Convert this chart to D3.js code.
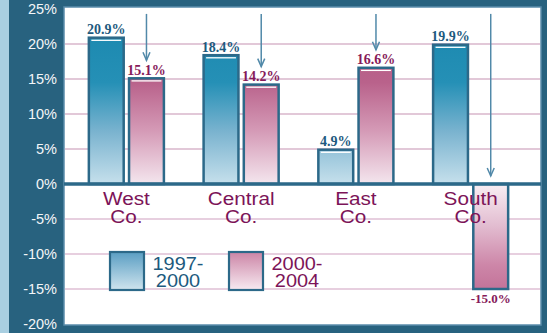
<!DOCTYPE html>
<html><head><meta charset="utf-8">
<script src="https://cdn.jsdelivr.net/npm/d3@7"></script>
<style>html,body{margin:0;padding:0;background:#fff;}svg{display:block;}</style>
</head><body>
<script>
const categories = ["West|Co.", "Central|Co.", "East|Co.", "South|Co."];
const seriesNames = ["1997-|2000", "2000-|2004"];
const values1997_2000 = [20.9, 18.4, 4.9, 19.9];
const values2000_2004 = [15.1, 14.2, 16.6, -15.0];
const labels1997_2000 = ["20.9%", "18.4%", "4.9%", "19.9%"];
const labels2000_2004 = ["15.1%", "14.2%", "16.6%", "-15.0%"];
const yTicks = [25, 20, 15, 10, 5, 0, -5, -10, -15, -20];

const W = 547, H = 333;
const plot = {left: 64, right: 541, top: 7, bottom: 325};
const svg = d3.select("body").append("svg").attr("width", W).attr("height", H);

const blueDark = "#1d5a7e", maroon = "#7c1458", frame = "#28627f", barStroke = "#2c6989";

// scales
const y = d3.scaleLinear().domain([-20, 25]).range([324, 9]);
const x0 = d3.scaleBand().domain(categories).range([69, 528]).paddingInner(0.346).paddingOuter(0.173);
const x1 = d3.scaleBand().domain(seriesNames).range([0, x0.bandwidth()]).paddingInner(0.133);

// gradients
const defs = svg.append("defs");
function grad(id, y1, y2, stops) {
  const g = defs.append("linearGradient").attr("id", id).attr("gradientUnits", "userSpaceOnUse")
    .attr("x1", 0).attr("x2", 0).attr("y1", y1).attr("y2", y2);
  stops.forEach(s => g.append("stop").attr("offset", s[0]).attr("stop-color", s[1]));
}
grad("gBlue", y(25), y(0), [[0, "#1886ad"], [0.42, "#2590b6"], [0.7, "#7ab3cf"], [1, "#c6e0ec"]]);
grad("gPink", y(25), y(0), [[0, "#b45884"], [0.42, "#b9628b"], [0.7, "#d59bb7"], [1, "#f4e6ee"]]);
grad("gPinkNeg", y(0), y(-20), [[0, "#f8eef3"], [0.3, "#e2bcd0"], [0.58, "#cd86a8"], [1, "#b45884"]]);
grad("gBlueLeg", 252, 290, [[0, "#5a9ec3"], [1, "#cfe4ee"]]);
grad("gPinkLeg", 252, 290, [[0, "#cc85a6"], [1, "#f7eaf1"]]);

// frame
svg.append("rect").attr("x", 0).attr("y", 0).attr("width", W).attr("height", H).attr("fill", frame);
svg.append("rect").attr("x", 0).attr("y", 0).attr("width", 9).attr("height", H).attr("fill", "#a9cfe1");
svg.append("rect").attr("x", plot.left).attr("y", plot.top)
  .attr("width", plot.right - plot.left).attr("height", plot.bottom - plot.top)
  .attr("fill", "#fff").attr("stroke", "#5a8cab").attr("stroke-width", 1.5);

// gridlines
svg.append("g").selectAll("line").data(yTicks.filter(t => t !== 0 && t !== 25 && t !== -20)).join("line")
  .attr("x1", plot.left + 1).attr("x2", plot.right - 1)
  .attr("y1", d => y(d)).attr("y2", d => y(d))
  .attr("stroke", d => d > 0 ? "#e2c8d8" : "#cf9fbf")
  .attr("stroke-width", d => d > 0 ? 2 : 1.2);

// y axis
const yAxis = d3.axisLeft(y).tickValues(yTicks).tickSize(0).tickPadding(0).tickFormat(d => d + "%");
const ga = svg.append("g").attr("transform", "translate(57,0)").call(yAxis);
ga.select(".domain").remove();
ga.selectAll("text").attr("fill", "#f4f6f8").attr("font-family", "Liberation Sans, Arial, sans-serif")
  .attr("font-size", 14.5);

// bars
const rows = categories.map((c, i) => ({
  cat: c,
  items: [
    {s: seriesNames[0], v: values1997_2000[i], label: labels1997_2000[i], fill: "url(#gBlue)", color: blueDark},
    {s: seriesNames[1], v: values2000_2004[i], label: labels2000_2004[i], fill: values2000_2004[i] < 0 ? "url(#gPinkNeg)" : "url(#gPink)", color: "#861a5a"}
  ]
}));

const groups = svg.append("g").selectAll("g").data(rows).join("g")
  .attr("transform", d => `translate(${x0(d.cat)},0)`);

groups.selectAll("rect.bar").data(d => d.items).join("rect").attr("class", "bar")
  .attr("x", d => x1(d.s)).attr("width", x1.bandwidth())
  .attr("y", d => y(Math.max(0, d.v))).attr("height", d => Math.abs(y(d.v) - y(0)))
  .attr("fill", d => d.fill).attr("stroke", barStroke).attr("stroke-width", 2.5);

groups.selectAll("line.hl").data(d => d.items.filter(e => e.v > 0)).join("line").attr("class", "hl")
  .attr("x1", d => x1(d.s) + 2.5).attr("x2", d => x1(d.s) + x1.bandwidth() - 2.5)
  .attr("y1", d => y(d.v) + 2.6).attr("y2", d => y(d.v) + 2.6)
  .attr("stroke", "#fff").attr("stroke-width", 1.3);

groups.selectAll("text.val").data(d => d.items).join("text").attr("class", "val")
  .attr("x", d => x1(d.s) + x1.bandwidth() / 2)
  .attr("y", d => d.v >= 0 ? y(d.v) - 3.5 : y(d.v) + 14)
  .attr("text-anchor", "middle")
  .attr("font-family", "Liberation Serif, Times New Roman, serif").attr("font-weight", "bold")
  .attr("font-size", d => d.v >= 0 ? 14 : 13)
  .attr("fill", d => d.color)
  .text(d => d.label);

// arrows pointing to 2000-2004 bars
const arrowTop = y(24.3);
groups.each(function(d) {
  const it = d.items[1];
  const cx = x1(it.s) + x1.bandwidth() / 2;
  const tip = it.v > 0 ? y(it.v) - 18 : y(0) - 8;
  const g = d3.select(this).append("g").attr("stroke", "#5189a9").attr("fill", "none").attr("stroke-width", 1.5);
  g.append("line").attr("x1", cx).attr("x2", cx).attr("y1", arrowTop).attr("y2", tip);
  g.append("polyline").attr("points", `${cx - 3.5},${tip - 8} ${cx},${tip} ${cx + 3.5},${tip - 8}`);
});

// zero line
svg.append("line").attr("x1", plot.left).attr("x2", plot.right).attr("y1", y(0)).attr("y2", y(0))
  .attr("stroke", barStroke).attr("stroke-width", 3.5);

// category labels (slightly wide type, as in the reference)
groups.each(function(d) {
  const lines = d.cat.split("|");
  const g = d3.select(this).append("g")
    .attr("transform", `translate(${x0.bandwidth() / 2},0) scale(1.12,1)`);
  g.selectAll("text").data(lines).join("text")
    .attr("x", 0).attr("y", (t, i) => 205 + i * 18).attr("text-anchor", "middle")
    .attr("font-family", "Liberation Sans, Arial, sans-serif").attr("font-size", 18.5)
    .attr("fill", maroon).text(t => t);
});

// legend
const legend = [
  {name: seriesNames[0], fill: "url(#gBlueLeg)", color: blueDark, x: 110},
  {name: seriesNames[1], fill: "url(#gPinkLeg)", color: maroon, x: 229}
];
const lg = svg.append("g").selectAll("g").data(legend).join("g");
lg.append("rect").attr("x", d => d.x).attr("y", 252).attr("width", 34).attr("height", 38)
  .attr("fill", d => d.fill).attr("stroke", barStroke).attr("stroke-width", 2.2);
lg.each(function(d) {
  const g = d3.select(this).append("g").attr("transform", `translate(${d.x + 68},0) scale(1.14,1)`);
  g.selectAll("text").data(d.name.split("|")).join("text")
    .attr("x", 0).attr("y", (t, i) => 270 + i * 17).attr("text-anchor", "middle")
    .attr("font-family", "Liberation Sans, Arial, sans-serif").attr("font-size", 17.5)
    .attr("fill", d.color).text(t => t);
});
</script>
</body></html>
